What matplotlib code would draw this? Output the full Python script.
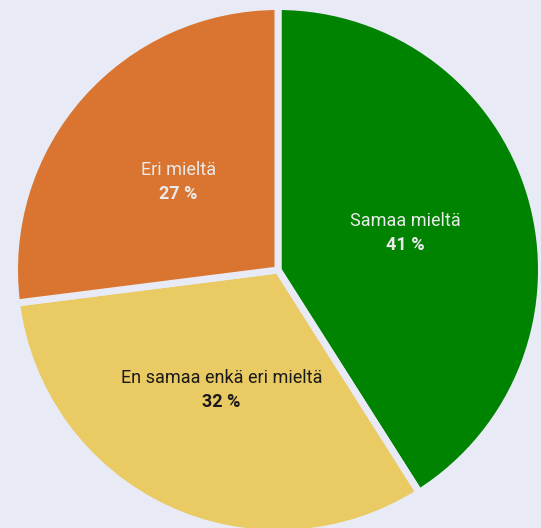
import matplotlib.pyplot as plt
import numpy as np

# Data
labels = ['Samaa mieltä', 'En samaa enkä eri mieltä', 'Eri mieltä']
values = [41, 32, 27]
colors = ['#008300', '#e9ca63', '#d97530']
text_colors = ['#eaeaea', '#1a1a1a', '#eaeaea']

bg = '#e8ebf5'

fig = plt.figure(figsize=(5.41, 5.28), dpi=100)
fig.patch.set_facecolor(bg)
ax = fig.add_axes([0, 0, 1, 1])
ax.set_facecolor(bg)

# pixel-like coordinates, y up
cx, cy, r = 278, 528 - 270, 260
gap = 7  # px

wedges, _ = ax.pie(values, colors=colors, startangle=90, counterclock=False,
                   center=(cx, cy), radius=r + gap / 2,
                   wedgeprops=dict(edgecolor=bg, linewidth=gap * 72 / 100))

# labels at mid-angle of each wedge
for w, lab, v, tc in zip(wedges, labels, values, text_colors):
    ang = np.deg2rad((w.theta1 + w.theta2) / 2)
    x = cx + 0.51 * r * np.cos(ang)
    y = cy + 0.51 * r * np.sin(ang)
    ax.text(x, y + 12, lab, ha='center', va='center', color=tc,
            fontsize=13, family='Roboto')
    ax.text(x, y - 12, f'{v} %', ha='center', va='center', color=tc,
            fontsize=13, family='Roboto', fontweight='bold')

ax.set_xlim(0, 541)
ax.set_ylim(0, 528)
ax.set_aspect('equal')
ax.axis('off')

plt.savefig('out.png', dpi=100, facecolor=bg)
